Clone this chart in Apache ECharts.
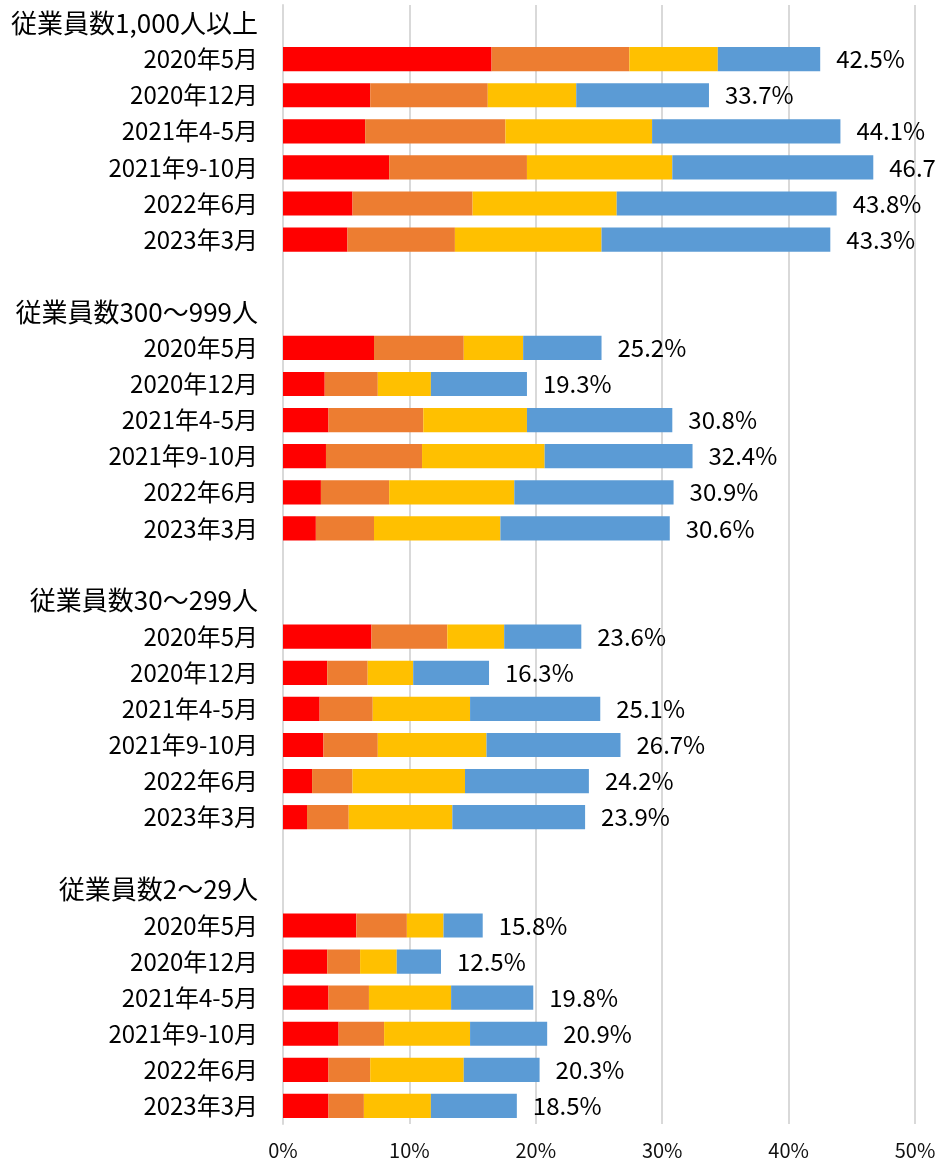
<!DOCTYPE html>
<html>
<head>
<meta charset="utf-8">
<script src="https://cdn.jsdelivr.net/npm/echarts@6/dist/echarts.min.js"></script>
<style>
  html, body { margin: 0; padding: 0; background: #fff; }
  #chart { width: 935px; height: 1163px; }
</style>
</head>
<body>
<div id="chart"></div>
<script>
// group headings and periods (rows inside every group)
var groups = ['従業員数1,000人以上', '従業員数300～999人', '従業員数30～299人', '従業員数2～29人']
var periods = ['2020年5月', '2020年12月', '2021年4-5月', '2021年9-10月', '2022年6月', '2023年3月']

// segment values (%), 6 periods per group, groups in order above
var red = [16.5, 6.9, 6.5, 8.4, 5.5, 5.1,
           7.2, 3.3, 3.6, 3.4, 3.0, 2.6,
           7.0, 3.5, 2.9, 3.2, 2.3, 1.9,
           5.8, 3.5, 3.6, 4.4, 3.6, 3.6]
var orange = [10.9, 9.3, 11.1, 10.9, 9.5, 8.5,
              7.1, 4.2, 7.5, 7.6, 5.4, 4.6,
              6.0, 3.2, 4.2, 4.3, 3.2, 3.3,
              4.0, 2.6, 3.2, 3.6, 3.3, 2.8]
var yellow = [7.0, 7.0, 11.6, 11.5, 11.4, 11.6,
              4.7, 4.2, 8.2, 9.7, 9.9, 10.0,
              4.5, 3.6, 7.7, 8.6, 8.9, 8.2,
              2.9, 2.9, 6.5, 6.8, 7.4, 5.3]
var blue = [8.1, 10.5, 14.9, 15.9, 17.4, 18.1,
            6.2, 7.6, 11.5, 11.7, 12.6, 13.4,
            6.1, 6.0, 10.3, 10.6, 9.8, 10.5,
            3.1, 3.5, 6.5, 6.1, 6.0, 6.8]
// totals printed after each bar
var totals = [42.5, 33.7, 44.1, 46.7, 43.8, 43.3,
              25.2, 19.3, 30.8, 32.4, 30.9, 30.6,
              23.6, 16.3, 25.1, 26.7, 24.2, 23.9,
              15.8, 12.5, 19.8, 20.9, 20.3, 18.5]
var xTicks = [0, 10, 20, 30, 40, 50]

// build category list: heading row, 6 period rows, blank spacer between groups
var cats = []
var rowIndex = []   // index into value arrays, or -1 for heading/blank
var isHead = []
groups.forEach(function (g, gi) {
    if (gi > 0) { cats.push(' '.repeat(gi)); rowIndex.push(-1); isHead.push(false) }
    cats.push(g); rowIndex.push(-1); isHead.push(true)
    periods.forEach(function (p, pi) {
        cats.push(p + '\u200b'.repeat(gi)); rowIndex.push(gi * 6 + pi); isHead.push(false)
    })
})

function col (arr) {
    return rowIndex.map(function (i) { return i < 0 ? null : arr[i] })
}
var totalCol = col(totals)

function mk (name, arr, color, withLabel) {
    var s = {
        name: name,
        type: 'bar',
        stack: 'total',
        barCategoryGap: '33%',
        itemStyle: { color: color },
        data: col(arr)
    }
    if (withLabel) {
        s.label = {
            show: true,
            position: 'right',
            distance: 16,
            color: '#000',
            fontSize: 24,
            fontFamily: 'Noto Sans CJK JP',
            formatter: function (p) { return totalCol[p.dataIndex].toFixed(1) + '%' }
        }
    }
    return s
}

var chart = echarts.init(document.getElementById('chart'), null, { renderer: 'canvas' })
chart.setOption({
    animation: false,
    textStyle: { fontFamily: 'Noto Sans CJK JP' },
    grid: { left: 283, right: 20, top: 5, bottom: 39, outerBoundsMode: 'none', containLabel: false },
    xAxis: {
        type: 'value',
        min: xTicks[0],
        max: xTicks[xTicks.length - 1],
        interval: 10,
        axisLine: { show: false },
        axisTick: { show: false },
        splitLine: { lineStyle: { color: '#d9d9d9', width: 2 } },
        axisLabel: {
            formatter: '{value}%',
            margin: 16,
            fontSize: 20,
            color: '#111',
            fontFamily: 'Noto Sans CJK JP'
        }
    },
    yAxis: {
        type: 'category',
        inverse: true,
        data: cats,
        axisLine: { show: true, lineStyle: { color: '#d9d9d9', width: 2 } },
        axisTick: { show: false },
        axisLabel: {
            margin: 25,
            color: '#000',
            fontFamily: 'Noto Sans CJK JP',
            formatter: function (v, i) {
                return isHead[i] ? '{h|' + v + '}' : '{p|' + v.replace(/\u200b/g, '') + '}'
            },
            rich: {
                h: { fontSize: 26, color: '#000', fontFamily: 'Noto Sans CJK JP' },
                p: { fontSize: 24, color: '#000', fontFamily: 'Noto Sans CJK JP' }
            }
        }
    },
    series: [
        mk('s1', red, '#ff0000', false),
        mk('s2', orange, '#ed7d31', false),
        mk('s3', yellow, '#ffc000', false),
        mk('s4', blue, '#5b9bd5', true)
    ]
})
</script>
</body>
</html>
